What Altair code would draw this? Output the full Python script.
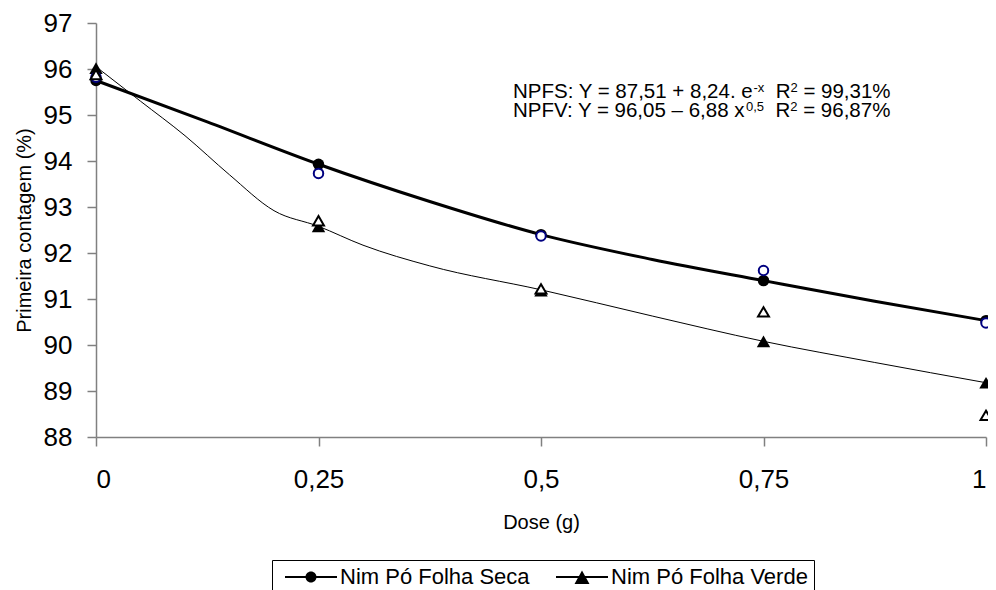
import altair as alt
import pandas as pd

# ---------------- data ----------------
doses = [0, 0.25, 0.5, 0.75, 1]
seca_fit = [95.75, 93.93, 92.40, 91.40, 90.53]     # filled circles
seca_obs = [95.82, 93.73, 92.37, 91.62, 90.48]     # open (blue) circles
verde_fit = [96.02, 92.58, 91.18, 90.08, 89.18]    # filled triangles
verde_obs = [95.88, 92.70, 91.22, 90.72, 88.47]    # open triangles

curve_seca_x = [0, 0.125, 0.25, 0.375, 0.5, 0.625, 0.75, 0.875, 1]
curve_seca_y = [95.75, 94.85, 93.93, 93.12, 92.40, 91.86, 91.40, 90.95, 90.53]
curve_verde_x = [0, 0.05, 0.1, 0.15, 0.2, 0.25, 0.3, 0.375, 0.5, 0.625, 0.75, 0.875, 1]
curve_verde_y = [96.05, 95.30, 94.55, 93.70, 92.92, 92.58, 92.17, 91.72, 91.20, 90.63, 90.08, 89.62, 89.18]

series = ["Nim Pó Folha Seca", "Nim Pó Folha Verde"]
y_ticks = list(range(88, 98))

eq_lines = [
    [("NPFS: Y = 87,51 + 8,24. e", False), ("-x", True), ("  R", False), ("2", True), (" = 99,31%", False)],
    [("NPFV: Y = 96,05 \u2013 6,88 x", False), ("0,5", True), ("  R", False), ("2", True), (" = 96,87%", False)],
]
eq_x0 = 0.4685
eq_y = [95.37, 94.96]

FONT = "Liberation Sans"
MAIN_FS = 20.5
SUP_FS = 13
W = 890
H = 414

# Arial / Liberation Sans advance widths (1/1000 em)
cw = {'N': 722, 'P': 667, 'F': 611, 'S': 667, 'V': 667, ':': 278, ' ': 278, 'Y': 667,
      '=': 584, ',': 278, '+': 584, '.': 278, 'e': 556, 'R': 722, '%': 889,
      '\u2013': 556, 'x': 500, '-': 333}
for d in "0123456789":
    cw[d] = 556


def text_w(s, fs):
    return sum(cw.get(c, 556) for c in s) * fs / 1000.0


rows = []
for li, segs in enumerate(eq_lines):
    off = 0.0
    for txt, sup in segs:
        fs = SUP_FS if sup else MAIN_FS
        lead = len(txt) - len(txt.lstrip(" "))
        off += text_w(" " * lead, fs)
        body = txt.lstrip(" ")
        rows.append({"x": eq_x0 + off / W, "y": eq_y[li], "t": body, "sup": sup})
        off += text_w(body, fs)
eq_df = pd.DataFrame(rows)

fit_seca_df = pd.DataFrame({"dose": doses, "valor": seca_fit})
fit_verde_df = pd.DataFrame({"dose": doses, "valor": verde_fit})
obs_seca_df = pd.DataFrame({"dose": doses, "valor": seca_obs})
obs_verde_df = pd.DataFrame({"dose": doses, "valor": verde_obs})
cs_df = pd.DataFrame({"dose": curve_seca_x, "valor": curve_seca_y})
cv_df = pd.DataFrame({"dose": curve_verde_x, "valor": curve_verde_y})
leg_df = pd.DataFrame({"dose": [0, 0], "valor": [90, 90], "serie": series})

x_scale = alt.Scale(domain=[0, 1], nice=False)
y_scale = alt.Scale(domain=[88, 97], nice=False, zero=False)

X = alt.X("dose:Q", scale=x_scale,
          axis=alt.Axis(values=doses, format=".2~f",
                        labelExpr="replace(datum.label, '.', ',')",
                        title="Dose (g)", tickSize=9, labelPadding=20,
                        titlePadding=20))
Y = alt.Y("valor:Q", scale=y_scale,
          axis=alt.Axis(values=y_ticks, format="d", title="Primeira contagem (%)",
                        tickSize=9, labelPadding=15, titlePadding=9))

line_seca = alt.Chart(cs_df).mark_line(color="black", strokeWidth=3, interpolate="monotone").encode(x=X, y=Y)
line_verde = alt.Chart(cv_df).mark_line(color="black", strokeWidth=1, interpolate="monotone").encode(x=X, y=Y)

# legend symbols: a thin filled bar (the line) plus the marker; unit = 5 px
circle_leg = "M-5.2,-0.22H5.2V0.22H-5.2Z M-1.1,0A1.1,1.1 0 1 1 1.1,0A1.1,1.1 0 1 1 -1.1,0Z"
tri_leg = "M-5.2,-0.2H5.2V0.2H-5.2Z M0,-1.3L1.5,1.4L-1.5,1.4Z"

legend = alt.Legend(
    title=None, orient="none", legendX=176, legendY=537,
    direction="horizontal", columns=2,
    labelFont=FONT, labelFontSize=22, labelColor="black", labelLimit=400,
    symbolSize=100, symbolOffset=22, labelOffset=18, columnPadding=19,
    symbolFillColor="black", symbolStrokeColor="black", symbolStrokeWidth=0, symbolOpacity=1,
    padding=6, strokeColor="black", fillColor="white", cornerRadius=0,
)

# legend-only layer (no rows drawn; the scale domain keeps the entries)
leg_layer = alt.Chart(leg_df).transform_filter("false").mark_point(
    filled=True, fill="black", size=100, opacity=1
).encode(
    x=X, y=Y,
    shape=alt.Shape("serie:N", scale=alt.Scale(domain=series, range=[circle_leg, tri_leg]), legend=legend),
)

pts_fit_seca = alt.Chart(fit_seca_df).mark_point(
    shape="circle", filled=True, color="black", size=130, opacity=1
).encode(x=X, y=Y)
pts_fit_verde = alt.Chart(fit_verde_df).mark_point(
    shape="triangle-up", filled=True, color="black", size=180, opacity=1
).encode(x=X, y=Y)

pts_obs_seca = alt.Chart(obs_seca_df).mark_point(
    shape="circle", filled=True, fill="white", stroke="#000080", strokeWidth=2, size=90, opacity=1
).encode(x=X, y=Y)
pts_obs_verde = alt.Chart(obs_verde_df).mark_point(
    shape="triangle-up", filled=True, fill="white", stroke="black", strokeWidth=2, size=120, opacity=1
).encode(x=X, y=Y)

eq_main = alt.Chart(eq_df).transform_filter("!datum.sup").mark_text(
    align="left", baseline="alphabetic", font=FONT, fontSize=MAIN_FS, color="black"
).encode(x=alt.X("x:Q", scale=x_scale), y=alt.Y("y:Q", scale=y_scale), text="t:N")
eq_sup = alt.Chart(eq_df).transform_filter("datum.sup").mark_text(
    align="left", baseline="alphabetic", font=FONT, fontSize=SUP_FS, dy=-6, color="black"
).encode(x=alt.X("x:Q", scale=x_scale), y=alt.Y("y:Q", scale=y_scale), text="t:N")

chart = alt.layer(
    line_seca, line_verde, pts_fit_seca, pts_fit_verde, pts_obs_seca, pts_obs_verde,
    eq_main, eq_sup, leg_layer
).properties(
    width=W, height=H,
    background="white",
    autosize=alt.AutoSizeParams(type="none"),
    padding={"left": 88, "top": 15, "right": 2, "bottom": 153},
).configure_view(stroke=None).configure_axis(
    grid=False, domainColor="#808080", tickColor="#808080", domainWidth=1.5, tickWidth=1.5,
    labelFont=FONT, labelFontSize=26, labelColor="black",
    titleFont=FONT, titleFontSize=20, titleFontWeight="normal", titleColor="black",
)

chart.save("out.html", embed_options={"renderer": "svg", "actions": False})
